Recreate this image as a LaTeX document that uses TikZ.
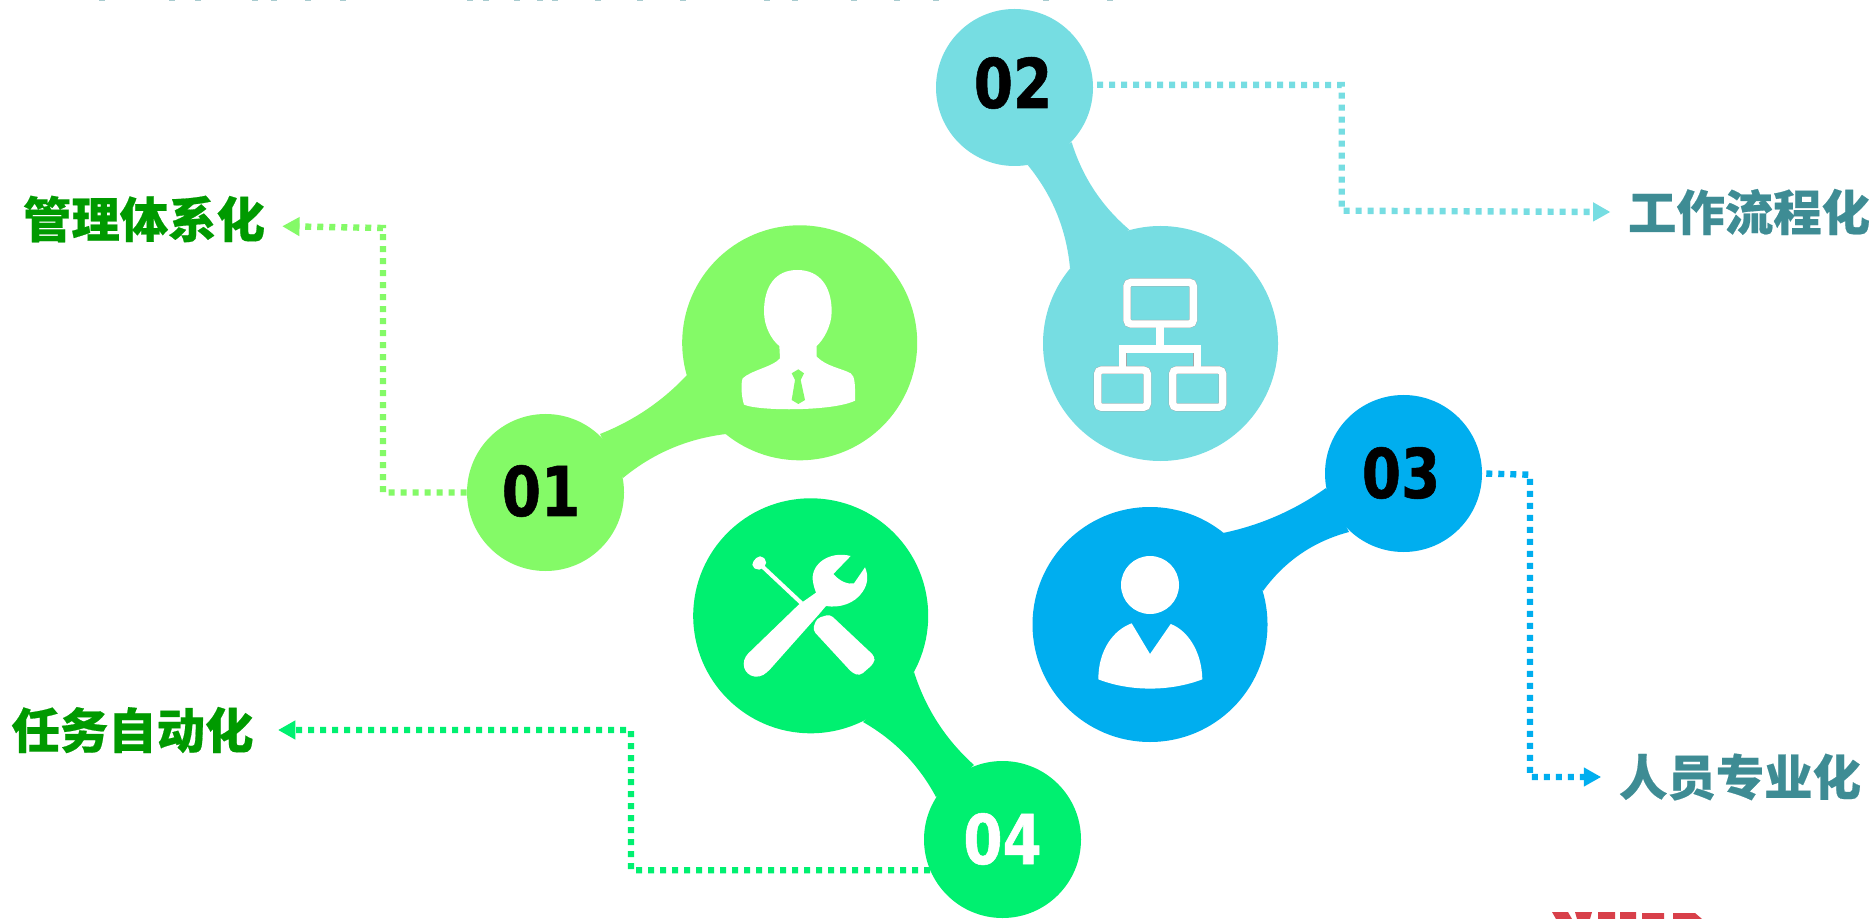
\documentclass[tikz,border=0pt]{standalone}
\usepackage{fontspec}
\setmainfont[BoldFeatures={FakeBold=0.4}]{Noto Sans CJK SC}
\newfontfamily\numfont[BoldFont={DejaVu Sans Bold},BoldFeatures={FakeStretch=0.82,FakeBold=0.8}]{DejaVu Sans}
\usetikzlibrary{arrows.meta}
\definecolor{cA}{HTML}{84FA67}
\definecolor{cB}{HTML}{76DDE2}
\definecolor{cC}{HTML}{00AEEF}
\definecolor{cD}{HTML}{00F070}
\definecolor{tgreen}{HTML}{009A00}
\definecolor{tteal}{HTML}{3E8C94}
\definecolor{logored}{HTML}{D8404A}
\tikzset{
  x=0.75pt,y=-0.75pt,
  small/.style={circle,fill=#1,minimum size=117.75pt,inner sep=0pt},
  big/.style={circle,fill=#1,minimum size=176.25pt,inner sep=0pt},
  num/.style={font=\fontsize{51.5pt}{52pt}\numfont\bfseries,inner sep=0pt,text=#1},
  lab/.style={font=\fontsize{36.3pt}{40pt}\selectfont\bfseries,inner ysep=0pt,inner xsep=14.5pt,text=#1},
  dotline/.style={draw=#1,line width=4.8pt,dash pattern=on 4.5pt off 4.5pt,
    -{Triangle[length=13pt,width=13.5pt,fill=#1]}},
  icon/.style={shift={(#1)},x=0.25pt,y=-0.25pt},
  treeedge/.style={draw=gray!70,line width=6pt,rounded corners=3pt},
  treeline/.style={draw=white,line width=5.5pt,rounded corners=3pt}
}
\begin{document}
\begin{tikzpicture}
\useasboundingbox (0,0) rectangle (1876,919);
\fill[white] (0,0) rectangle (1876,919);

% clipped fragments at the page edges
\foreach \p in {99,169,195,252,271,305,340,467,483,514,537,552,595,637,680,764,792,851,894,933,1043,1107}
  \fill[tteal!45] (\p,0) rectangle ++(6,1.3);
\fill[logored] (1552,912) -- (1568,912) -- (1572,919) -- (1556,919) -- cycle
  (1575,912) -- (1592,912) -- (1590,919) -- (1577,919) -- cycle
  (1598,912) -- (1615,912) -- (1615,919) -- (1598,919) -- cycle
  (1620,912) -- (1636,912) -- (1636,919) -- (1620,919) -- cycle
  (1642,913) -- (1664,913) -- (1664,919) -- (1642,919) -- cycle
  (1673,913) -- (1695,913) -- (1702,919) -- (1673,919) -- cycle;

% circles
\node[small=cA] (s1) at (545.5,492.5) {};
\node[big=cA]   (b1) at (799.7,342.8) {};
\node[small=cB] (s2) at (1014.5,87.5) {};
\node[big=cB]   (b2) at (1160.5,343.5) {};
\node[small=cC] (s3) at (1403.5,473.5) {};
\node[big=cC]   (b3) at (1150,624.5) {};
\node[small=cD] (s4) at (1002.5,839.5) {};
\node[big=cD]   (b4) at (810.7,615.8) {};

% necks
\fill[cA] (687,375) .. controls (662.5,401.2) and (633.5,420.8) .. (600,434) -- (623,478) .. controls (652.9,453.3) and (687.2,438.7) .. (726,434) -- cycle;
\fill[cB] (1071.7,142.3) .. controls (1082.4,176.9) and (1101.6,206.1) .. (1129.3,229.7) -- (1070,268.3) .. controls (1066.5,229.5) and (1052.4,195.1) .. (1027.7,165) -- cycle;
\fill[cC] (1223,533) .. controls (1260.5,525.2) and (1294.8,510.2) .. (1326,488) -- (1349,532) .. controls (1313.4,541.4) and (1284.7,561.1) .. (1263,591) -- cycle;
\fill[cD] (914,672) .. controls (925.6,708.5) and (945.6,739.5) .. (974,765) -- (936,797) .. controls (918.9,765) and (894.6,740) .. (863,722) -- cycle;

% numbers
\node[num=black] (n1) at (541,491) {01};
\node[num=black] (n2) at (1013,83) {02};
\node[num=black] (n3) at (1401,473) {03};
\node[num=white] (n4) at (1002.5,839) {04};

% labels
\node[lab=tgreen,inner xsep=12.7pt] (l1) at (144,219) {管理体系化};
\node[lab=tteal,inner xsep=13pt]  (l2) at (1749,212) {工作流程化};
\node[lab=tteal,inner xsep=13.2pt]  (l3) at (1740,777) {人员专业化};
\node[lab=tgreen,inner xsep=18.2pt] (l4) at (132.5,730) {任务自动化};

% bends
\coordinate (p1a) at (383,492.5);
\coordinate (p1b) at (383,228);
\coordinate (p2a) at (1341.7,85);
\coordinate (p2b) at (1341.7,210.7);
\coordinate (p3a) at (1530,474.7);
\coordinate (p3b) at (1530,777);
\coordinate (p4a) at (631,870.2);
\coordinate (p4b) at (631,730);

% connectors
\path[dotline=cA] (s1.west) -- (p1a) -- (p1b) -- (l1.-3.7);
\path[dotline=cB,shorten <=3pt] (s2.2) -- (p2a) -- (p2b) -- (l2.west);
\path[dotline=cC,shorten <=3pt] (s3.east) -- (p3a) -- (p3b) -- (l3.west);
\path[dotline=cD] (s4.203) -- (p4a) -- (p4b) -- (l4.east);

% icon 01: person with tie
\begin{scope}[icon={440,210}]
\fill[white] (1072,180) .. controls (1140,180) and (1175,230) .. (1175,305) .. controls (1175,350) and (1148,392) .. (1130,408) -- (1130,440) .. controls (1160,470) and (1205,475) .. (1232,490) .. controls (1244,498) and (1246,520) .. (1245,572) .. controls (1180,604) and (960,604) .. (912,584) .. controls (904,560) and (902,520) .. (908,505) .. controls (935,480) and (1000,470) .. (1020,445) -- (1018,408) .. controls (995,390) and (972,350) .. (972,305) .. controls (972,230) and (1005,180) .. (1072,180) -- cycle;
\fill[cA] (1055,490) -- (1075,478) -- (1092,490) -- (1082,510) -- (1095,570) -- (1075,582) -- (1055,570) -- (1065,510) -- cycle;
\end{scope}

% icon 02: hierarchy
\begin{scope}[icon={920,0}]
\foreach \s in {treeedge,treeline}{
  \path[\s] (621,847) rectangle (820,972);
  \path[\s] (533,1110) rectangle (682,1222);
  \path[\s] (758,1110) rectangle (908,1222);
}
\path[treeedge,rounded corners=0pt] (720,984) -- (720,1047);
\path[treeedge,rounded corners=0pt] (608,1098) -- (608,1047) -- (832,1047) -- (832,1098);
\path[treeline,rounded corners=0pt] (720,980) -- (720,1047);
\path[treeline,rounded corners=0pt] (608,1102) -- (608,1047) -- (832,1047) -- (832,1102);
\end{scope}

% icon 03: person
\begin{scope}[icon={1010,380}]
\fill[white] (420,615) circle[radius=21.75pt];
\fill[white] (365,730) -- (420,822) -- (482,732) .. controls (530,750) and (575,810) .. (577,898) .. controls (480,935) and (360,935) .. (265,898) .. controls (265,810) and (310,750) .. (365,730) -- cycle;
\end{scope}

% icon 04: tools
\begin{scope}[icon={680,480}]
\fill[white,rounded corners=4pt] (210,255) -- (240,222) -- (265,248) -- (238,275) -- cycle;
\draw[white,line width=3pt] (235,248) -- (365,370);
\fill[white,rounded corners=3pt] (410,415) -- (450,403) -- (585,530) -- (582,550) -- (540,587) -- (518,580) -- (398,450) -- cycle;
\fill[white] (512,228) .. controls (450,212) and (395,250) .. (398,298) .. controls (400,318) and (405,328) .. (408,338) -- (355,375) -- (205,520) .. controls (180,545) and (190,585) .. (225,590) .. controls (245,592) and (258,580) .. (270,568) -- (415,405) -- (438,378) .. controls (480,385) and (525,370) .. (548,335) .. controls (565,310) and (565,285) .. (555,262) -- (522,310) .. controls (505,314) and (480,305) .. (460,282) -- cycle;
\end{scope}
\end{tikzpicture}
\end{document}
